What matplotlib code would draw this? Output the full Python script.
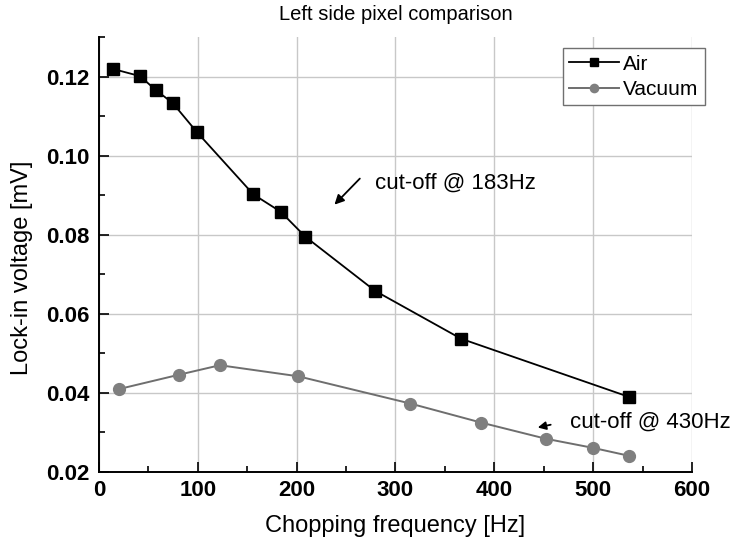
import matplotlib
matplotlib.use('Agg')
import matplotlib.pyplot as plt
from matplotlib.ticker import MultipleLocator, FormatStrFormatter

plt.rcParams['font.family'] = ['Liberation Sans', 'DejaVu Sans']

air_f = [14.5, 41.5, 57.4, 74.6, 98.9, 156.2, 183.9, 208.8, 279.4, 366.4, 536.2]
air_v = [0.1219, 0.1201, 0.1166, 0.1133, 0.1060, 0.0902, 0.0858, 0.0795, 0.0658, 0.0537, 0.0390]
vac_f = [20.7, 81.0, 122.3, 201.6, 315.2, 386.6, 452.3, 499.9, 536.2]
vac_v = [0.0410, 0.0446, 0.0470, 0.0442, 0.0373, 0.0325, 0.0284, 0.0261, 0.0241]

fig = plt.figure(figsize=(7.31, 5.48), dpi=100)
ax = fig.add_axes([0.1354, 0.1387, 0.8112, 0.7938])

ax.grid(True, color='#c8c8c8', lw=1.0)
ax.set_axisbelow(True)

ax.plot(air_f, air_v, color='black', lw=1.3, marker='s', ms=8,
        mfc='black', mec='black', label='Air')
ax.plot(vac_f, vac_v, color='#6e6e6e', lw=1.4, marker='o', ms=8.5,
        mfc='#7f7f7f', mec='#7f7f7f', label='Vacuum')

ax.set_xlim(0, 600)
ax.set_ylim(0.02, 0.13)
ax.xaxis.set_major_locator(MultipleLocator(100))
ax.xaxis.set_minor_locator(MultipleLocator(50))
ax.yaxis.set_major_locator(MultipleLocator(0.02))
ax.yaxis.set_minor_locator(MultipleLocator(0.01))
ax.yaxis.set_major_formatter(FormatStrFormatter('%.2f'))
ax.tick_params(which='both', direction='in', width=1.2)
ax.tick_params(which='major', length=7, labelsize=16)
ax.tick_params(which='minor', length=4)
ax.tick_params(axis='x', pad=6)
ax.tick_params(axis='y', pad=7)
for lab in ax.get_xticklabels() + ax.get_yticklabels():
    lab.set_fontweight('bold')

for s in ['top', 'right']:
    ax.spines[s].set_visible(False)
for s in ['left', 'bottom']:
    ax.spines[s].set_linewidth(1.4)

ax.set_title('Left side pixel comparison', fontsize=14.5, pad=12)
ax.set_xlabel('Chopping frequency [Hz]', fontsize=17, labelpad=10)
ax.set_ylabel('Lock-in voltage [mV]', fontsize=17)
ax.yaxis.set_label_coords(-0.112, 0.47)

ax.annotate('', xy=(236.3, 0.0871), xytext=(265.9, 0.0947),
            arrowprops=dict(arrowstyle='-|>', color='black', lw=1.3,
                            mutation_scale=14))
ax.text(279, 0.0931, 'cut-off @ 183Hz', fontsize=16, va='center', ha='left')
ax.annotate('', xy=(441.2, 0.0311), xytext=(459.8, 0.0321),
            arrowprops=dict(arrowstyle='-|>', color='black', lw=1.3,
                            mutation_scale=12))
ax.text(476.7, 0.0327, 'cut-off @ 430Hz', fontsize=16, va='center', ha='left',
        clip_on=False)

leg = ax.legend(loc='upper right', bbox_to_anchor=(1.022, 0.974), fontsize=15,
                fancybox=False, framealpha=1, edgecolor='#707070',
                handlelength=2.4, handletextpad=0.2, borderpad=0.3,
                labelspacing=0.3, borderaxespad=0, markerscale=0.7)
leg.get_frame().set_linewidth(1.0)

fig.savefig('out.png', dpi=100)
